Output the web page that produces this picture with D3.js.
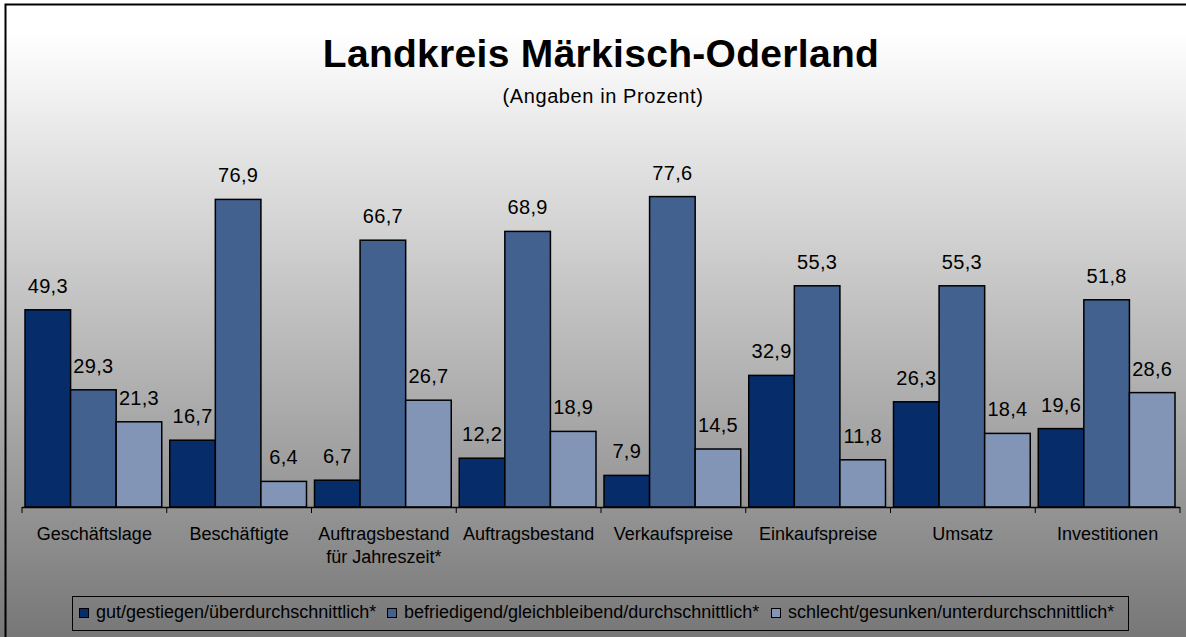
<!DOCTYPE html>
<html>
<head>
<meta charset="utf-8">
<script src="https://cdn.jsdelivr.net/npm/d3@7"></script>
<style>
  body { margin: 0; }
  svg { display: block; font-family: "Liberation Sans", Arial, sans-serif; }
</style>
</head>
<body>
<svg width="1186" height="637"></svg>
<script>
var categories = ["Geschäftslage", "Beschäftigte", "Auftragsbestand\nfür Jahreszeit*", "Auftragsbestand",
                  "Verkaufspreise", "Einkaufspreise", "Umsatz", "Investitionen"];
var seriesNames = ["gut/gestiegen/überdurchschnittlich*",
                   "befriedigend/gleichbleibend/durchschnittlich*",
                   "schlecht/gesunken/unterdurchschnittlich*"];
var gut = [49.3, 16.7, 6.7, 12.2, 7.9, 32.9, 26.3, 19.6];
var befriedigend = [29.3, 76.9, 66.7, 68.9, 77.6, 55.3, 55.3, 51.8];
var schlecht = [21.3, 6.4, 26.7, 18.9, 14.5, 11.8, 18.4, 28.6];
var colors = ["#062c6a", "#42618f", "#8295b7"];

var series = [gut, befriedigend, schlecht];

var svg = d3.select("svg");
var fmt = function(v) { return d3.format(".1f")(v).replace(".", ","); };

// background gradient
var defs = svg.append("defs");
var grad = defs.append("linearGradient")
    .attr("id", "bg").attr("x1", 0).attr("y1", 0).attr("x2", 0).attr("y2", 1);
grad.append("stop").attr("offset", "0%").attr("stop-color", "#ffffff");
grad.append("stop").attr("offset", "5%").attr("stop-color", "#ffffff");
grad.append("stop").attr("offset", "100%").attr("stop-color", "#777777");

svg.append("rect").attr("x", 0).attr("y", 0).attr("width", 1186).attr("height", 637)
    .attr("fill", "url(#bg)");
// frame (top + left lines)
svg.append("path").attr("d", "M5.5,637 L5.5,4.5 L1186,4.5")
    .attr("fill", "none").attr("stroke", "#000").attr("stroke-width", 2);

// title
svg.append("text").attr("x", 601).attr("y", 67).attr("text-anchor", "middle")
    .style("font-size", "39px").style("font-weight", "bold").style("letter-spacing", "0.3px")
    .text("Landkreis Märkisch-Oderland");
svg.append("text").attr("x", 603).attr("y", 103).attr("text-anchor", "middle")
    .style("font-size", "20px").style("letter-spacing", "0.6px").text("(Angaben in Prozent)");

var x0 = d3.scaleBand().domain(categories).range([22, 1180]).paddingInner(0).paddingOuter(0);
var x1 = d3.scaleBand().domain([0, 1, 2]).range([3, x0.bandwidth() - 5]);
var y = d3.scaleLinear().domain([0, 80]).range([507, 187]);

var groups = svg.append("g").selectAll("g")
    .data(categories).enter().append("g")
    .attr("transform", function(d) { return "translate(" + x0(d) + ",0)"; });

groups.selectAll("rect")
    .data(function(d, i) { return series.map(function(s, k) { return { k: k, v: s[i] }; }); })
    .enter().append("rect")
    .attr("x", function(d) { return x1(d.k); })
    .attr("y", function(d) { return y(d.v); })
    .attr("width", x1.bandwidth())
    .attr("height", function(d) { return y(0) - y(d.v); })
    .attr("fill", function(d) { return colors[d.k]; })
    .attr("stroke", "#000").attr("stroke-width", 1.5);

groups.selectAll("text.val")
    .data(function(d, i) { return series.map(function(s, k) { return { k: k, v: s[i] }; }); })
    .enter().append("text").attr("class", "val")
    .attr("x", function(d) { return x1(d.k) + x1.bandwidth() / 2; })
    .attr("y", function(d) { return y(d.v) - 17; })
    .attr("text-anchor", "middle")
    .style("font-size", "20px").style("letter-spacing", "0.3px")
    .text(function(d) { return fmt(d.v); });

// x axis
svg.append("line").attr("x1", 22).attr("x2", 1180).attr("y1", 507.5).attr("y2", 507.5)
    .attr("stroke", "#000").attr("stroke-width", 1.5);
svg.append("g").selectAll("line")
    .data(d3.range(categories.length + 1)).enter().append("line")
    .attr("x1", function(i) { return 22 + i * x0.bandwidth(); })
    .attr("x2", function(i) { return 22 + i * x0.bandwidth(); })
    .attr("y1", 507).attr("y2", 513)
    .attr("stroke", "#000").attr("stroke-width", 1);

svg.append("g").selectAll("text")
    .data(categories).enter().append("text")
    .attr("x", function(d) { return x0(d) + x0.bandwidth() / 2; })
    .attr("y", 540)
    .attr("text-anchor", "middle")
    .style("font-size", "18px")
    .each(function(d) {
        var lines = d.split("\n");
        var t = d3.select(this);
        lines.forEach(function(l, i) {
            t.append("tspan").attr("x", x0(d) + x0.bandwidth() / 2)
                .attr("dy", i === 0 ? 0 : 23).text(l);
        });
    });

// legend
svg.append("rect").attr("x", 72.5).attr("y", 596.5).attr("width", 1056).attr("height", 34)
    .attr("fill", "none").attr("stroke", "#000").attr("stroke-width", 1);
var legX = [79, 387, 771];
var leg = svg.append("g").selectAll("g")
    .data(seriesNames).enter().append("g")
    .attr("transform", function(d, i) { return "translate(" + legX[i] + ",0)"; });
leg.append("rect").attr("x", 0.5).attr("y", 608.5).attr("width", 9).attr("height", 9)
    .attr("fill", function(d, i) { return colors[i]; })
    .attr("stroke", "#000").attr("stroke-width", 1);
leg.append("text").attr("x", 17).attr("y", 618)
    .style("font-size", "18px").text(function(d) { return d; });
</script>
</body>
</html>
